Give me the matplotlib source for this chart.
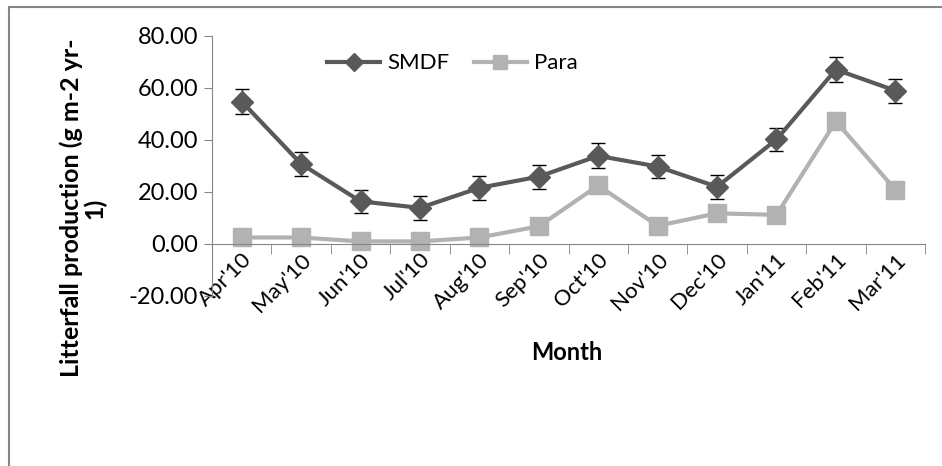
import numpy as np
import matplotlib.pyplot as plt
from matplotlib.patches import Rectangle

months = ["Apr'10", "May'10", "Jun'10", "Jul'10", "Aug'10", "Sep'10",
          "Oct'10", "Nov'10", "Dec'10", "Jan'11", "Feb'11", "Mar'11"]
smdf = [54.8, 30.8, 16.4, 13.9, 21.6, 25.9, 33.9, 29.8, 22.0, 40.2, 67.1, 59.0]
smdf_err = [4.7, 4.6, 4.5, 4.7, 4.5, 4.6, 4.8, 4.6, 4.6, 4.6, 4.8, 4.6]
para = [2.5, 2.5, 1.0, 1.0, 2.5, 6.8, 22.5, 7.0, 11.8, 11.2, 47.2, 20.9]

plt.rcParams['font.family'] = ['Lato', 'DejaVu Sans']

fig = plt.figure(figsize=(9.42, 4.66), dpi=100)
fig.patches.append(Rectangle((9 / 942, -0.1), 1.2, 1 - 7 / 466 + 0.1,
                             transform=fig.transFigure, fill=False,
                             edgecolor='#868686', linewidth=1.5))
ax = fig.add_axes([212 / 942, 1 - 296 / 466, (925 - 212) / 942, (296 - 36) / 466])

x = np.arange(len(months))
eb = ax.errorbar(x, smdf, yerr=smdf_err, color='#595959', linewidth=3, marker='D',
                 markersize=11, ecolor='black', elinewidth=1, capsize=5, capthick=1,
                 zorder=3)
l_para, = ax.plot(x, para, color='#b2b2b2', linewidth=3, marker='s', markersize=13,
                  zorder=2)

ax.set_xlim(-0.5, 11.5)
ax.set_ylim(-20, 80)
ax.set_yticks([-20, 0, 20, 40, 60, 80])
ax.set_yticklabels([f'{v:.2f}' for v in [-20, 0, 20, 40, 60, 80]])
ax.set_xticks(x)
ax.set_xticks(np.arange(-0.5, 12, 1), minor=True)
ax.set_xticklabels(months)

for s in ['top', 'right']:
    ax.spines[s].set_visible(False)
ax.spines['bottom'].set_position(('data', 0))
ax.spines['bottom'].set_color('#868686')
ax.spines['left'].set_color('#868686')
ax.tick_params(axis='x', which='major', length=0, pad=4, labelsize=16)
ax.tick_params(axis='x', which='minor', length=7, color='#868686', direction='out')
ax.tick_params(axis='y', length=6, color='#868686', labelsize=17, pad=4)
plt.setp(ax.get_xticklabels(), rotation=45, ha='right', rotation_mode='anchor')

fig.text(83 / 942, 1 - 208 / 466, 'Litterfall production (g m-2 yr-\n1)',
         fontsize=18, fontweight='bold', rotation=90, ha='center', va='center',
         multialignment='center', linespacing=1.0)
fig.text(567 / 942, 1 - 352 / 466, 'Month', fontsize=17, fontweight='bold',
         ha='center', va='center')

ax.legend([eb.lines[0], l_para], ['SMDF', 'Para'], loc='center',
          bbox_to_anchor=(0.337, 0.895), ncol=2, frameon=False,
          fontsize=16, handlelength=2.4, columnspacing=1.1, handletextpad=0.3,
          markerscale=0.8)

fig.savefig('out.png', dpi=100)
